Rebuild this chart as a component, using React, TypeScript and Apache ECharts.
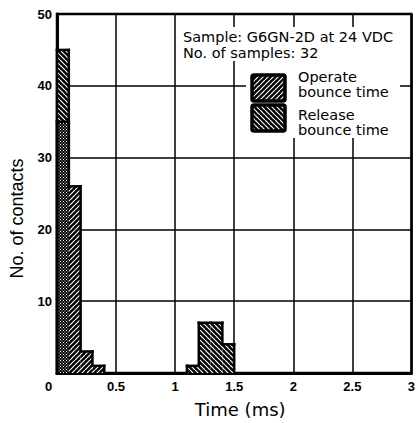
import React, { useEffect, useRef } from 'react';
import * as echarts from 'echarts';

const BIN_WIDTH = 0.1;
const operateBinStarts = [0, 0.1, 0.2, 0.3];
const operateCounts = [35, 26, 3, 1];
const releaseBinStarts = [0, 1.1, 1.2, 1.3, 1.4];
const releaseCounts = [45, 1, 7, 7, 4];
const annotationLines = ['Sample: G6GN-2D at 24 VDC', 'No. of samples: 32'];
const legendOperate = ['Operate', 'bounce time'];
const legendRelease = ['Release', 'bounce time'];
const xAxisTitle = 'Time (ms)';
const yAxisTitle = 'No. of contacts';

const FONT = '"Liberation Sans", Arial, Helvetica, sans-serif';
const WIDE_FONT = '"DejaVu Sans", "Liberation Sans", Arial, sans-serif';

function makeHatch(kind: 'fwd' | 'back' | 'dots') {
  const s = kind === 'dots' ? 3 : 5;
  const c = document.createElement('canvas');
  c.width = s;
  c.height = s;
  const ctx = c.getContext('2d')!;
  ctx.fillStyle = '#000';
  ctx.fillRect(0, 0, s, s);
  if (kind === 'dots') {
    ctx.fillStyle = '#fff';
    ctx.fillRect(0, 0, 1, 1);
    ctx.fillRect(1.5, 1.5, 1, 1);
  } else {
    ctx.strokeStyle = '#fff';
    ctx.lineWidth = 1.2;
    ctx.beginPath();
    for (const k of [-s, 0, s]) {
      if (kind === 'fwd') {
        ctx.moveTo(k, s);
        ctx.lineTo(k + s, 0);
      } else {
        ctx.moveTo(k, 0);
        ctx.lineTo(k + s, s);
      }
    }
    ctx.stroke();
  }
  return { image: c, repeat: 'repeat' };
}

export default function App() {
  const ref = useRef<HTMLDivElement>(null);
  useEffect(() => {
    if (!ref.current) return;
    const chart = echarts.init(ref.current, undefined, { renderer: 'svg' });
    const fwd = makeHatch('fwd');
    const back = makeHatch('back');
    const dots = makeHatch('dots');

    const releaseData = releaseBinStarts.map((x, i) => [x, releaseCounts[i], 0]);
    const operateData = operateBinStarts.map((x, i) => [
      x,
      operateCounts[i],
      releaseBinStarts.includes(x) ? 1 : 0,
    ]);

    const neighbour = (starts: number[], counts: number[], i: number, dir: number) => {
      const j = i + dir;
      if (j < 0 || j >= starts.length) return 0;
      return Math.abs(starts[j] - (starts[i] + dir * BIN_WIDTH)) < 1e-6 ? counts[j] : 0;
    };

    const makeRender = (starts: number[], counts: number[], pattern: any) => (params: any, api: any) => {
      const i = params.dataIndex;
      const x0 = api.value(0);
      const count = api.value(1);
      const overlap = api.value(2);
      const p0 = api.coord([x0, count]);
      const p1 = api.coord([x0 + BIN_WIDTH, 0]);
      const leftN = neighbour(starts, counts, i, -1);
      const rightN = neighbour(starts, counts, i, 1);
      const yl = api.coord([x0, Math.min(leftN, count)])[1];
      const yr = api.coord([x0, Math.min(rightN, count)])[1];
      const ls = { stroke: '#000', lineWidth: 2.5, lineCap: 'square' };
      const children: any[] = [
        {
          type: 'rect',
          shape: { x: p0[0], y: p0[1], width: p1[0] - p0[0], height: p1[1] - p0[1] },
          style: { fill: overlap ? dots : pattern },
        },
        { type: 'line', shape: { x1: p0[0], y1: p0[1], x2: p1[0], y2: p0[1] }, style: ls },
      ];
      if (count > leftN) children.push({ type: 'line', shape: { x1: p0[0], y1: p0[1], x2: p0[0], y2: yl }, style: ls });
      if (count > rightN) children.push({ type: 'line', shape: { x1: p1[0], y1: p0[1], x2: p1[0], y2: yr }, style: ls });
      return { type: 'group', children };
    };

    const textEl = (text: string, x: number, y: number) => ({
      type: 'text',
      x,
      y,
      z: 20,
      style: { text, fontSize: 14.5, fontFamily: WIDE_FONT, fill: '#000', verticalAlign: 'middle' },
    });

    chart.setOption({
      animation: false,
      backgroundColor: '#fff',
      grid: { left: 56, right: 2, top: 14, bottom: 50, show: true, borderColor: '#000', borderWidth: 2.5, backgroundColor: 'transparent' },
      xAxis: {
        type: 'value',
        min: 0,
        max: 3,
        interval: 0.5,
        name: xAxisTitle,
        nameLocation: 'middle',
        nameGap: 27,
        nameTextStyle: { fontSize: 18, fontFamily: WIDE_FONT, color: '#000', padding: [0, 0, 0, 12] },
        axisLine: { show: true, lineStyle: { color: '#000', width: 3 } },
        axisTick: { show: false },
        splitLine: { show: true, lineStyle: { color: '#000', width: 1.5 } },
        axisLabel: {
          margin: 7,
          fontSize: 13,
          fontWeight: 'bold',
          fontFamily: FONT,
          color: '#000',
          formatter: (v: number) => (v === 0 ? '{z|0}' : String(v)),
          rich: { z: { fontSize: 13, fontWeight: 'bold', fontFamily: FONT, color: '#000', padding: [0, 17, 0, 0] } },
        },
      },
      yAxis: {
        type: 'value',
        min: 0,
        max: 50,
        interval: 10,
        name: yAxisTitle,
        nameLocation: 'middle',
        nameGap: 31,
        nameRotate: 90,
        nameTextStyle: { fontSize: 18, fontFamily: FONT, color: '#000', padding: [0, 50, 0, 0] },
        axisLine: { show: true, lineStyle: { color: '#000', width: 3 } },
        axisTick: { show: false },
        splitLine: { show: true, lineStyle: { color: '#000', width: 1.5 } },
        axisLabel: {
          margin: 5,
          fontSize: 13,
          fontWeight: 'bold',
          fontFamily: FONT,
          color: '#000',
          formatter: (v: number) => (v === 0 ? '' : String(v)),
        },
      },
      graphic: [
        { type: 'rect', z: 15, shape: { x: 180, y: 27, width: 222, height: 34 }, style: { fill: '#fff' } },
        { type: 'rect', z: 15, shape: { x: 246, y: 61, width: 154, height: 77 }, style: { fill: '#fff' } },
        textEl(annotationLines[0], 183, 37),
        textEl(annotationLines[1], 183, 53),
        { type: 'rect', z: 20, shape: { x: 252, y: 75, width: 33, height: 26, r: 2 }, style: { fill: fwd, stroke: '#000', lineWidth: 3.5 } },
        { type: 'rect', z: 20, shape: { x: 252, y: 105, width: 33, height: 26, r: 2 }, style: { fill: back, stroke: '#000', lineWidth: 3.5 } },
        textEl(legendOperate[0], 298, 77),
        textEl(legendOperate[1], 298, 92),
        textEl(legendRelease[0], 298, 115),
        textEl(legendRelease[1], 298, 130),
      ],
      series: [
        {
          type: 'custom',
          name: 'Release bounce time',
          data: releaseData,
          encode: { x: 0, y: 1 },
          renderItem: makeRender(releaseBinStarts, releaseCounts, back),
          z: 5,
        },
        {
          type: 'custom',
          name: 'Operate bounce time',
          data: operateData,
          encode: { x: 0, y: 1 },
          renderItem: makeRender(operateBinStarts, operateCounts, fwd),
          z: 6,
        },
      ],
    });
    return () => chart.dispose();
  }, []);
  return (
    <div
      ref={ref}
      style={{ position: 'fixed', left: 0, top: 0, width: 418, height: 423 }}
    />
  );
}
